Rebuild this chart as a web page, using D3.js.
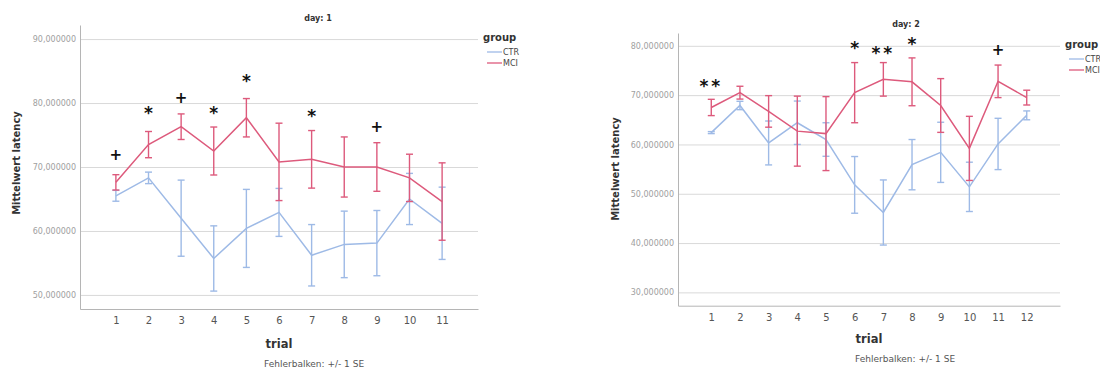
<!DOCTYPE html>
<html>
<head>
<meta charset="utf-8">
<script src="https://cdn.jsdelivr.net/npm/d3@7"></script>
<style>
body { margin: 0; background: #fff; }
text { font-family: "DejaVu Sans", sans-serif; }
</style>
</head>
<body>
<svg id="chart" width="1100" height="372"></svg>
<script>
// ---- data ----
var groups = ["CTR", "MCI"];

var day1Trials = [1, 2, 3, 4, 5, 6, 7, 8, 9, 10, 11];
var day1CtrMean = [65.5, 68.3, 62.0, 55.7, 60.4, 62.9, 56.2, 57.9, 58.1, 65.0, 61.2];
var day1CtrSE   = [0.85, 0.9, 5.95, 5.1, 6.1, 3.75, 4.8, 5.2, 5.1, 4.0, 5.65];
var day1MciMean = [67.6, 73.5, 76.3, 72.5, 77.7, 70.8, 71.2, 70.0, 70.0, 68.3, 64.6];
var day1MciSE   = [1.2, 2.05, 2.0, 3.75, 3.0, 6.05, 4.5, 4.7, 3.8, 3.7, 6.05];
var day1YTicks  = [50, 60, 70, 80, 90];
var day1Sig = [
  {trial: 1, mark: "+", value: 72.0},
  {trial: 2, mark: "*", value: 79.1},
  {trial: 3, mark: "+", value: 80.8},
  {trial: 4, mark: "*", value: 79.2},
  {trial: 5, mark: "*", value: 84.1},
  {trial: 7, mark: "*", value: 78.75},
  {trial: 9, mark: "+", value: 76.25}
];

var day2Trials = [1, 2, 3, 4, 5, 6, 7, 8, 9, 10, 11, 12];
var day2CtrMean = [62.4, 67.9, 60.3, 64.4, 61.0, 51.8, 46.2, 55.9, 58.4, 51.4, 60.1, 65.9];
var day2CtrSE   = [0.2, 0.85, 4.45, 4.4, 3.4, 5.75, 6.6, 5.1, 6.1, 5.0, 5.2, 0.9];
var day2MciMean = [67.5, 70.5, 66.7, 62.7, 62.2, 70.5, 73.2, 72.7, 67.9, 59.2, 72.8, 69.5];
var day2MciSE   = [1.65, 1.3, 3.2, 7.1, 7.5, 6.1, 3.4, 4.85, 5.45, 6.5, 3.3, 1.5];
var day2YTicks  = [30, 40, 50, 60, 70, 80];
var day2Sig = [
  {trial: 1, mark: "**", value: 72.7},
  {trial: 6, mark: "*", value: 80.5},
  {trial: 7, mark: "**", value: 79.5},
  {trial: 8, mark: "*", value: 81.3},
  {trial: 11, mark: "+", value: 79.3}
];

var colors = {CTR: "#9ebae6", MCI: "#dd5a7c"};

var de = d3.formatLocale({decimal: ",", thousands: ".", grouping: [3], currency: ["", " €"]});
var yFmt = de.format(".6f");

var svg = d3.select("#chart");

function drawPanel(p) {
  var g = svg.append("g");
  var x = d3.scaleLinear().domain([1 - p.xPad, p.trials.length + p.xPad]).range([p.x0, p.x1]);
  var y = d3.scaleLinear().domain(p.yDomain).range([p.y1, p.y0]);

  // gridlines
  g.append("g")
    .attr("transform", "translate(" + p.x0 + ",0)")
    .call(d3.axisLeft(y).tickValues(p.yTicks).tickSize(-(p.x1 - p.x0)).tickFormat(""))
    .call(function(s){ s.select(".domain").remove(); })
    .selectAll("line").attr("stroke", "#d9d9d9");

  // y axis
  var ya = g.append("g")
    .attr("transform", "translate(" + p.x0 + ",0)")
    .call(d3.axisLeft(y).tickValues(p.yTicks).tickSize(0).tickSizeOuter(0).tickPadding(4).tickFormat(yFmt));
  ya.select(".domain").attr("stroke", "#b5b5b5");
  ya.selectAll("text").attr("fill", "#a0a0a0").style("font-size", "8px");

  // x axis
  var xa = g.append("g")
    .attr("transform", "translate(0," + p.y1 + ")")
    .call(d3.axisBottom(x).tickValues(p.trials).tickSize(0).tickSizeOuter(0).tickPadding(8).tickFormat(d3.format("d")));
  xa.select(".domain").attr("stroke", "#b5b5b5");
  xa.selectAll("text").attr("fill", "#555").style("font-size", "10px");

  // series
  p.series.forEach(function(s) {
    var pts = p.trials.map(function(t, i) { return {t: t, m: s.mean[i], se: s.se[i]}; });
    var c = colors[s.name];
    g.append("path")
      .datum(pts)
      .attr("fill", "none")
      .attr("stroke", c)
      .attr("stroke-width", 1.5)
      .attr("d", d3.line().x(function(d){ return x(d.t); }).y(function(d){ return y(d.m); }));
    var eb = g.append("g").selectAll("g").data(pts).enter().append("g")
      .attr("stroke", c).attr("stroke-width", 1.4);
    eb.append("line")
      .attr("x1", function(d){ return x(d.t); }).attr("x2", function(d){ return x(d.t); })
      .attr("y1", function(d){ return y(d.m + d.se); }).attr("y2", function(d){ return y(d.m - d.se); });
    eb.append("line")
      .attr("x1", function(d){ return x(d.t) - 3.5; }).attr("x2", function(d){ return x(d.t) + 3.5; })
      .attr("y1", function(d){ return y(d.m + d.se); }).attr("y2", function(d){ return y(d.m + d.se); });
    eb.append("line")
      .attr("x1", function(d){ return x(d.t) - 3.5; }).attr("x2", function(d){ return x(d.t) + 3.5; })
      .attr("y1", function(d){ return y(d.m - d.se); }).attr("y2", function(d){ return y(d.m - d.se); });
  });

  // significance marks
  g.append("g").selectAll("text").data(p.sig).enter().append("text")
    .attr("x", function(d){ return x(d.trial); })
    .attr("y", function(d){
      var fs = d.mark === "+" ? 15 : 17;
      return y(d.value) + (d.mark === "+" ? 0.36 : 0.62) * fs;
    })
    .attr("text-anchor", "middle")
    .style("font-size", function(d){ return d.mark === "+" ? "15px" : "17px"; })
    .style("font-weight", "bold")
    .style("letter-spacing", function(d){ return d.mark.length > 1 ? "3px" : "0px"; })
    .attr("fill", "#111")
    .text(function(d){ return d.mark; });

  // title
  g.append("text")
    .attr("x", p.titleX).attr("y", p.titleY).attr("dy", "0.35em")
    .attr("text-anchor", "middle")
    .style("font-size", "8px").style("font-weight", "bold").attr("fill", "#333")
    .text(p.title);

  // axis titles
  g.append("text")
    .attr("transform", "translate(" + p.yLabelX + "," + p.yLabelY + ") rotate(-90)")
    .attr("dy", "0.35em").attr("text-anchor", "middle")
    .style("font-size", "10px").style("font-weight", "bold").attr("fill", "#333")
    .text("Mittelwert latency");
  g.append("text")
    .attr("x", (p.x0 + p.x1) / 2).attr("y", p.trialY).attr("dy", "0.35em")
    .attr("text-anchor", "middle")
    .style("font-size", "11.5px").style("font-weight", "bold").attr("fill", "#333")
    .text("trial");
  g.append("text")
    .attr("x", p.noteX).attr("y", p.noteY).attr("dy", "0.35em")
    .style("font-size", "9px").attr("fill", "#555")
    .text("Fehlerbalken: +/- 1 SE");

  // legend
  var lg = g.append("g").attr("transform", "translate(" + p.legendX + "," + p.legendY + ")");
  lg.append("text").attr("dy", "0.35em")
    .style("font-size", "10px").style("font-weight", "bold").attr("fill", "#333")
    .text("group");
  groups.forEach(function(name, i) {
    var yy = 15 + i * 11;
    lg.append("line").attr("x1", 4).attr("x2", 19).attr("y1", yy).attr("y2", yy)
      .attr("stroke", colors[name]).attr("stroke-width", 1.3);
    lg.append("text").attr("x", 20).attr("y", yy).attr("dy", "0.35em")
      .style("font-size", "8px").attr("fill", "#444").text(name);
  });
}

drawPanel({
  trials: day1Trials, yTicks: day1YTicks, sig: day1Sig,
  series: [{name: "CTR", mean: day1CtrMean, se: day1CtrSE}, {name: "MCI", mean: day1MciMean, se: day1MciSE}],
  x0: 80, x1: 478, y0: 25, y1: 309, yDomain: [47.8, 92.2], xPad: 1.1,
  title: "day: 1", titleX: 318, titleY: 18,
  yLabelX: 16, yLabelY: 163, trialY: 344, noteX: 264, noteY: 364,
  legendX: 483, legendY: 37
});

drawPanel({
  trials: day2Trials, yTicks: day2YTicks, sig: day2Sig,
  series: [{name: "CTR", mean: day2CtrMean, se: day2CtrSE}, {name: "MCI", mean: day2MciMean, se: day2MciSE}],
  x0: 678, x1: 1060, y0: 33, y1: 305.7, yDomain: [27.3, 82.6], xPad: 1.16,
  title: "day: 2", titleX: 906, titleY: 24,
  yLabelX: 615, yLabelY: 169, trialY: 339, noteX: 855, noteY: 359,
  legendX: 1065, legendY: 44
});
</script>
</body>
</html>
